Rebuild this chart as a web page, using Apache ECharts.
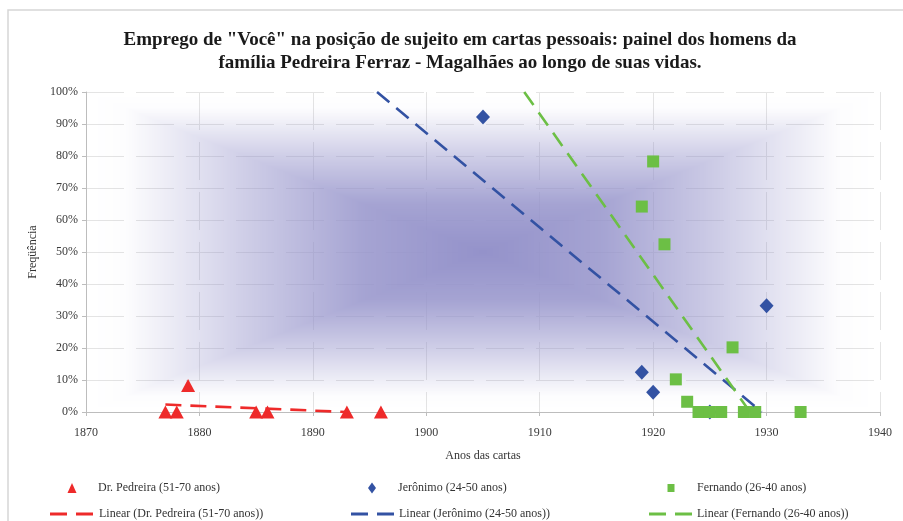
<!DOCTYPE html>
<html>
<head>
<meta charset="utf-8">
<script src="https://cdn.jsdelivr.net/npm/echarts@6/dist/echarts.min.js"></script>
<style>
  html, body { margin: 0; padding: 0; background: #ffffff; }
  #chart { width: 903px; height: 521px; }
</style>
</head>
<body>
<div id="chart"></div>
<script>
// Letters by year and share of "Você" as subject (%), one pair of arrays per writer
const seriesNames = ['Dr. Pedreira (51-70 anos)', 'Jerônimo (24-50 anos)', 'Fernando (26-40 anos)'];
const trendNames = ['Linear (Dr. Pedreira (51-70 anos))', 'Linear (Jerônimo (24-50 anos))', 'Linear (Fernando (26-40 anos))'];

const pedreiraYears = [1877, 1878, 1879, 1885, 1886, 1893, 1896];
const pedreiraValues = [0, 0, 8.3, 0, 0, 0, 0];

const jeronimoYears = [1905, 1919, 1920, 1925, 1930];
const jeronimoValues = [92.2, 12.4, 6.2, 0, 33.2];

const fernandoYears = [1919, 1920, 1921, 1922, 1923, 1924, 1925, 1926, 1927, 1928, 1929, 1933];
const fernandoValues = [64.2, 78.3, 52.4, 10.2, 3.2, 0, 0, 0, 20.2, 0, 0, 0];

// How many years each trend line is projected backwards
const trendBackcastYears = [0, 11, 11];

const yearMin = 1870, yearMax = 1940, yearStep = 10;
const pctMin = 0, pctMax = 100, pctStep = 10;

const colors = ['#ee2a2a', '#3352a3', '#6cbf45'];
const serif = 'Liberation Serif';

function pairs(xs, ys) { return xs.map((x, i) => [x, ys[i]]); }

// Least-squares line through the points, clipped to the value range of the axis
function linearTrend(xs, ys, back) {
  const n = xs.length;
  const mx = xs.reduce((a, b) => a + b, 0) / n;
  const my = ys.reduce((a, b) => a + b, 0) / n;
  let sxy = 0, sxx = 0;
  for (let i = 0; i < n; i++) {
    sxy += (xs[i] - mx) * (ys[i] - my);
    sxx += (xs[i] - mx) * (xs[i] - mx);
  }
  const slope = sxy / sxx;
  const icpt = my - slope * mx;
  const f = x => icpt + slope * x;
  const inv = y => (y - icpt) / slope;
  const clipEnd = (x) => {
    const y = f(x);
    if (y > pctMax) return inv(pctMax);
    if (y < pctMin) return inv(pctMin);
    return x;
  };
  const x0 = clipEnd(Math.min.apply(null, xs) - back);
  const x1 = clipEnd(Math.max.apply(null, xs));
  return [[x0, f(x0)], [x1, f(x1)]];
}

const scatterSets = [
  { years: pedreiraYears, values: pedreiraValues, symbol: 'triangle', size: [14, 13] },
  { years: jeronimoYears, values: jeronimoValues, symbol: 'diamond', size: [14, 15] },
  { years: fernandoYears, values: fernandoValues, symbol: 'rect', size: [12, 12] }
];

// Plot-area fill: rectangular gradient deepening toward the centre.
// Stops are [position from edge (0) to centre (1), opacity].
const fillRGB = [148, 146, 202];
const fillStops = [[0, 0], [0.1, 0.02], [0.4, 0.45], [0.7, 0.84], [1, 1]];

function stopAlpha(t) {
  for (let i = 1; i < fillStops.length; i++) {
    if (t <= fillStops[i][0]) {
      const a = fillStops[i - 1], b = fillStops[i];
      return a[1] + (b[1] - a[1]) * (t - a[0]) / (b[0] - a[0]);
    }
  }
  return fillStops[fillStops.length - 1][1];
}

let fillCache = null;
function fillImage(w, h) {
  w = Math.max(1, Math.round(w)); h = Math.max(1, Math.round(h));
  if (fillCache && fillCache.width === w && fillCache.height === h) return fillCache;
  const c = document.createElement('canvas');
  c.width = w; c.height = h;
  const ctx = c.getContext('2d');
  const img = ctx.createImageData(w, h);
  const hw = w / 2, hh = h / 2;
  for (let y = 0; y < h; y++) {
    for (let x = 0; x < w; x++) {
      const t = 1 - Math.max(Math.abs(x + 0.5 - hw) / hw, Math.abs(y + 0.5 - hh) / hh);
      const k = (y * w + x) * 4;
      img.data[k] = fillRGB[0];
      img.data[k + 1] = fillRGB[1];
      img.data[k + 2] = fillRGB[2];
      img.data[k + 3] = Math.round(stopAlpha(Math.max(0, t)) * 255);
    }
  }
  ctx.putImageData(img, 0, 0);
  fillCache = c;
  return c;
}

const series = [];
series.push({
  type: 'custom',
  name: 'plotFill',
  silent: true,
  clip: false,
  z: 1,
  data: [[1905, 50]],
  renderItem: function (params) {
    const cs = params.coordSys;
    return {
      type: 'image',
      style: { image: fillImage(cs.width, cs.height), x: cs.x, y: cs.y, width: cs.width, height: cs.height }
    };
  }
});

scatterSets.forEach((s, i) => {
  series.push({
    type: 'scatter',
    name: seriesNames[i],
    data: pairs(s.years, s.values),
    symbol: s.symbol,
    symbolSize: s.size,
    clip: false,
    z: 3 + i,
    itemStyle: { color: colors[i], opacity: 1 }
  });
});

scatterSets.forEach((s, i) => {
  series.push({
    type: 'line',
    name: trendNames[i],
    data: linearTrend(s.years, s.values, trendBackcastYears[i]),
    showSymbol: false,
    symbol: 'none',
    clip: false,
    z: 7,
    itemStyle: { color: colors[i] },
    lineStyle: { color: colors[i], width: 2.6, type: [16, 9] }
  });
});

// One legend per entry so each sits in its column
const legendText = { fontFamily: serif, fontSize: 12, color: '#333333', lineHeight: 14 };
function legendEntry(name, icon, left, top, w, h, pad) {
  return {
    data: [{ name: name, icon: icon }],
    left: left, top: top,
    itemWidth: w, itemHeight: h,
    padding: 0,
    selectedMode: false,
    textStyle: Object.assign({}, legendText, { padding: [0, 0, 0, pad] })
  };
}
const dashIcon = 'path://M0,0H17V3H0Z M26,0H43V3H26Z';
const legends = [
  legendEntry(seriesNames[0], 'triangle', 67.5, 481, 9, 10, 16.5),
  legendEntry(seriesNames[1], 'diamond', 368, 481, 8, 11, 17),
  legendEntry(seriesNames[2], 'rect', 667.5, 481, 7, 8, 17.5),
  legendEntry(trendNames[0], dashIcon, 50, 507, 43, 3, 1),
  legendEntry(trendNames[1], dashIcon, 351, 507, 43, 3, 0),
  legendEntry(trendNames[2], dashIcon, 649, 507, 43, 3, 0)
];

const chart = echarts.init(document.getElementById('chart'), null, { renderer: 'canvas' });
chart.setOption({
  backgroundColor: '#ffffff',
  animation: false,
  title: {
    text: 'Emprego de "Você" na posição de sujeito em cartas pessoais: painel dos homens da\nfamília Pedreira Ferraz - Magalhães ao longo de suas vidas.',
    left: 460,
    top: 29,
    padding: 0,
    textAlign: 'center',
    textStyle: { fontFamily: serif, fontSize: 19, fontWeight: 'bold', color: '#1a1a1a', lineHeight: 23 }
  },
  graphic: [{
    type: 'rect',
    silent: true,
    shape: { x: 8, y: 10, width: 905, height: 520 },
    style: { fill: null, stroke: '#d6d6d6', lineWidth: 1.5 },
    z: -10
  }],
  legend: legends,
  grid: { left: 86, right: 23, top: 92, bottom: 109, containLabel: false },
  xAxis: {
    type: 'value',
    min: yearMin, max: yearMax, interval: yearStep,
    name: 'Anos das cartas',
    nameLocation: 'middle',
    nameGap: 38,
    nameTextStyle: { fontFamily: serif, fontSize: 12, color: '#333333' },
    axisLine: { show: true, onZero: false, lineStyle: { color: '#bdbdbd', width: 1 } },
    axisTick: { show: true, length: 4, lineStyle: { color: '#bdbdbd' } },
    axisLabel: { margin: 15, fontFamily: serif, fontSize: 12, color: '#3a3a3a', formatter: v => String(v) },
    splitLine: { show: true, lineStyle: { color: '#e4e4e4', width: 1, type: [38, 12] } }
  },
  yAxis: {
    type: 'value',
    min: pctMin, max: pctMax, interval: pctStep,
    name: 'Freqüência',
    nameLocation: 'middle',
    nameRotate: 90,
    nameGap: 43,
    nameTextStyle: { fontFamily: serif, fontSize: 12, color: '#333333' },
    axisLine: { show: true, lineStyle: { color: '#bdbdbd', width: 1 } },
    axisTick: { show: true, length: 4, lineStyle: { color: '#bdbdbd' } },
    axisLabel: { margin: 8, fontFamily: serif, fontSize: 12, color: '#3a3a3a', formatter: '{value}%' },
    splitLine: { show: true, lineStyle: { color: '#e4e4e4', width: 1, type: [38, 12] } }
  },
  series: series
});
</script>
</body>
</html>
